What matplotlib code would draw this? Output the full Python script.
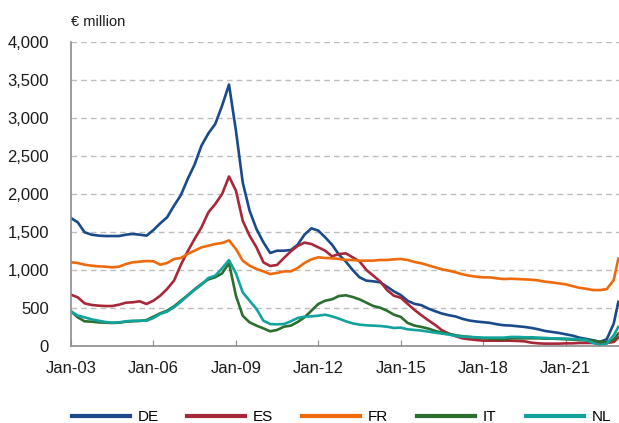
import numpy as np
import pandas as pd
import matplotlib
matplotlib.use("Agg")
import matplotlib.pyplot as plt
import matplotlib.dates as mdates

# quarterly observations Jan-03 .. Oct-22, plus last point Dec-22
dates = pd.date_range("2003-01-01", periods=80, freq="QS").append(pd.DatetimeIndex(["2022-12-01"]))

de = [1684, 1627, 1496, 1465, 1452, 1447, 1447, 1447, 1465, 1474, 1465, 1452, 1526, 1614, 1693, 1846,
      1987, 2197, 2386, 2636, 2798, 2921, 3162, 3440, 2833, 2153, 1781, 1539, 1364, 1224, 1254, 1254,
      1263, 1333, 1465, 1548, 1518, 1430, 1333, 1202, 1110, 1000, 904, 860, 851, 838, 781, 719,
      670, 595, 555, 537, 493, 458, 427, 405, 388, 357, 335, 322, 313, 304, 286, 273,
      269, 260, 251, 238, 220, 198, 185, 172, 154, 137, 110, 93, 75, 53, 90, 295, 581]
es = [675, 640, 561, 540, 531, 526, 526, 544, 570, 575, 588, 553, 597, 662, 750, 860,
      1070, 1246, 1408, 1561, 1759, 1868, 2000, 2230, 2044, 1649, 1452, 1298, 1101, 1053, 1066, 1158,
      1246, 1316, 1360, 1342, 1298, 1254, 1180, 1210, 1219, 1167, 1114, 1000, 925, 851, 737, 662,
      634, 555, 476, 405, 339, 278, 207, 163, 128, 101, 88, 79, 70, 70, 70, 70,
      70, 66, 62, 44, 35, 31, 31, 31, 35, 35, 40, 40, 40, 40, 40, 53, 110]
fr = [1101, 1092, 1070, 1057, 1048, 1044, 1035, 1044, 1079, 1101, 1110, 1118, 1114, 1070, 1092, 1145,
      1158, 1211, 1254, 1298, 1320, 1342, 1355, 1390, 1276, 1123, 1057, 1013, 982, 947, 961, 982,
      982, 1026, 1092, 1140, 1167, 1158, 1154, 1145, 1132, 1132, 1123, 1123, 1123, 1132, 1132, 1140,
      1145, 1132, 1106, 1088, 1062, 1035, 1009, 991, 969, 943, 925, 912, 903, 903, 890, 881,
      885, 881, 877, 872, 863, 846, 837, 824, 811, 788, 766, 753, 736, 736, 749, 868, 1150]
it = [456, 377, 325, 320, 311, 307, 303, 307, 320, 325, 329, 342, 386, 430, 465, 522,
      596, 667, 746, 816, 877, 904, 956, 1090, 662, 399, 311, 268, 232, 193, 211, 254,
      268, 316, 377, 465, 553, 596, 614, 658, 667, 645, 614, 570, 526, 504, 465, 412,
      383, 304, 269, 251, 229, 198, 176, 159, 141, 128, 119, 110, 101, 97, 93, 88,
      101, 101, 101, 101, 101, 97, 97, 93, 88, 84, 79, 75, 70, 57, 53, 84, 163]
nl = [456, 400, 377, 351, 333, 316, 307, 311, 325, 333, 333, 333, 368, 421, 452, 509,
      583, 662, 737, 807, 895, 925, 1022, 1130, 956, 706, 596, 487, 333, 289, 285, 289,
      325, 368, 386, 390, 399, 412, 390, 360, 325, 298, 281, 272, 268, 263, 254, 237,
      242, 220, 211, 203, 189, 176, 163, 150, 132, 123, 119, 115, 110, 110, 110, 110,
      119, 119, 115, 115, 110, 106, 101, 101, 97, 93, 88, 79, 40, 13, 31, 141, 251]

names = ["DE", "ES", "FR", "IT", "NL"]
colors = ["#1B4A8A", "#A8283A", "#EE6A0C", "#2B6E30", "#12A39C"]
series = [de, es, fr, it, nl]
tick_years = [2003, 2006, 2009, 2012, 2015, 2018, 2021]

plt.rcParams["font.family"] = ["Liberation Sans", "DejaVu Sans"]

fig = plt.figure(figsize=(6.19, 4.23), dpi=100)
ax = fig.add_axes([71 / 619, 1 - 346 / 423, 1 - 71 / 619, (346 - 42) / 423])

lines = []
for vals, c, n in zip(series, colors, names):
    ln, = ax.plot(dates, vals, color=c, lw=1.9, label=n)
    lines.append(ln)

ax.set_ylim(0, 4000)
ax.set_xlim(pd.Timestamp("2003-01-01"), pd.Timestamp("2022-12-10"))
ax.set_yticks(np.arange(0, 4001, 500))
ax.yaxis.set_major_formatter(matplotlib.ticker.FuncFormatter(lambda v, p: f"{int(v):,}"))
ax.set_xticks([pd.Timestamp(f"{y}-01-01") for y in tick_years])
ax.xaxis.set_major_formatter(mdates.DateFormatter("Jan-%y"))

ax.grid(axis="y", color="#BDBDBD", ls=(0, (4, 3)), lw=1)
ax.set_axisbelow(True)
for s in ["top", "right"]:
    ax.spines[s].set_visible(False)
for s in ["left", "bottom"]:
    ax.spines[s].set_color("#8C8C8C")
    ax.spines[s].set_linewidth(1.2)
ax.tick_params(axis="y", length=0, pad=16, labelsize=12, labelcolor="#1A1A1A")
ax.tick_params(axis="x", direction="in", length=4, color="#8C8C8C", pad=11,
               labelsize=12, labelcolor="#1A1A1A")

fig.text(71 / 619, 1 - 22 / 423, "€ million", fontsize=10.5, color="#1A1A1A", va="center")

# one legend per entry so the spacing matches
xs = [72, 187, 302, 417, 526]
for ln, x in zip(lines, xs):
    fig.legend(handles=[ln], loc="center left", bbox_to_anchor=(x / 619, 1 - 417 / 423),
               frameon=False, handlelength=3.8, handletextpad=0.5, borderpad=0,
               borderaxespad=0, prop={"size": 11})
for lg in fig.legends:
    for h in lg.legend_handles:
        h.set_linewidth(3)

fig.savefig("out.png", dpi=100)
